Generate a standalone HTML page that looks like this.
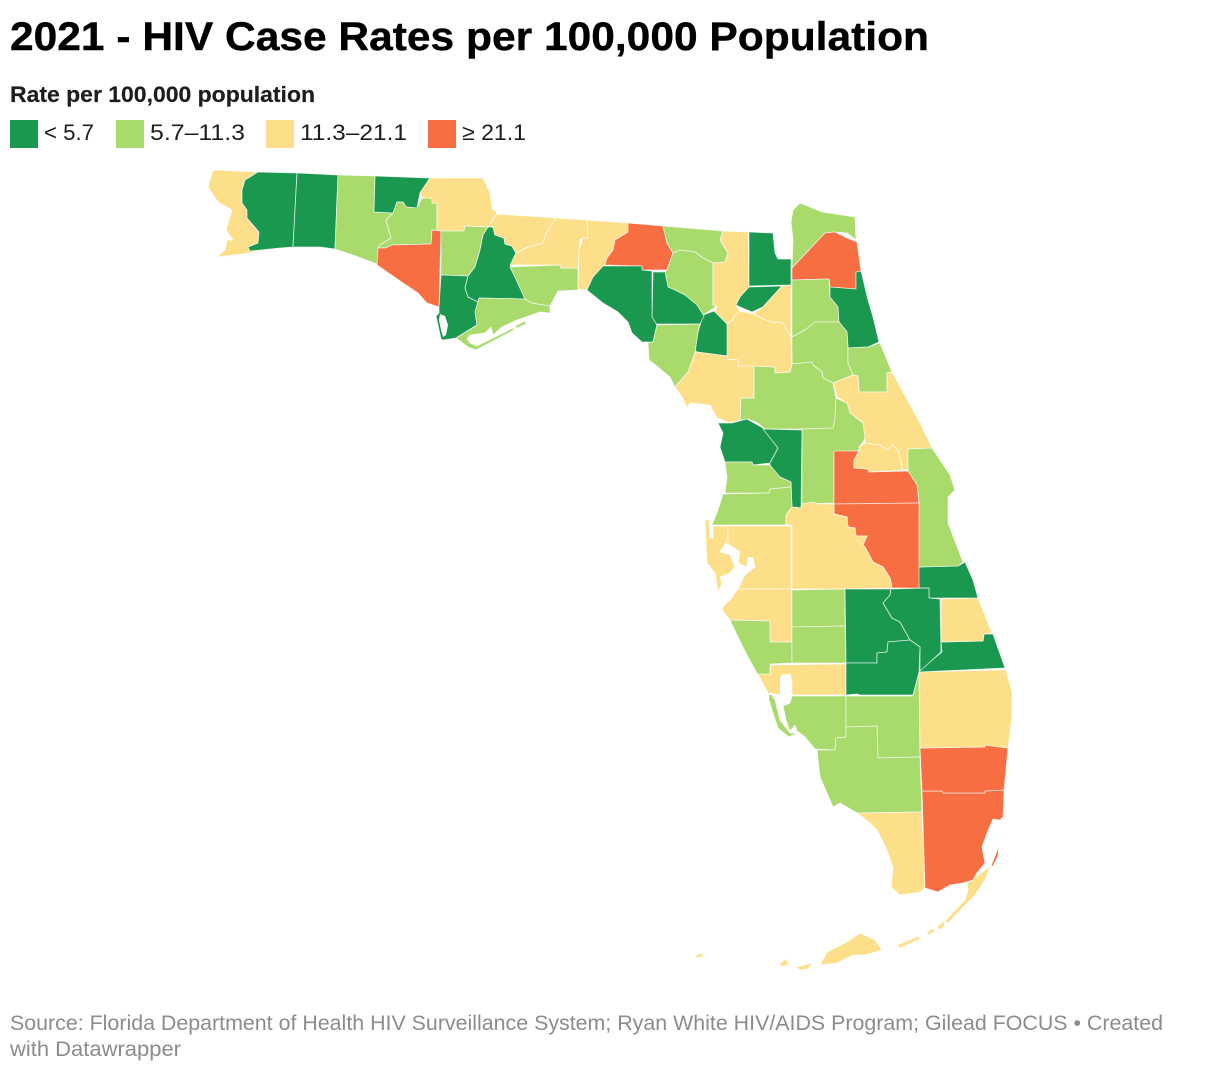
<!DOCTYPE html>
<html lang="en">
<head>
<meta charset="utf-8">
<title>2021 - HIV Case Rates per 100,000 Population</title>
<style>
html,body{margin:0;padding:0;background:#fff}
svg{display:block}
text{font-family:"Liberation Sans",Arial,sans-serif}
</style>
</head>
<body>
<svg id="chart" xmlns="http://www.w3.org/2000/svg" width="1220" height="1074" viewBox="0 0 1220 1074">
  <text x="10" y="50" font-size="40" font-weight="700" fill="#000" stroke="#000" stroke-width="0.4" textLength="919" lengthAdjust="spacingAndGlyphs">2021 - HIV Case Rates per 100,000 Population</text>
  <text x="10" y="102" font-size="22.5" font-weight="700" fill="#1d1d1d" stroke="#1d1d1d" stroke-width="0.2" textLength="305" lengthAdjust="spacingAndGlyphs">Rate per 100,000 population</text>
  <g id="legend"></g>
  <g id="counties"></g>
  <g id="water" fill="#fff">
    <polygon points="440,314 445,316 448,325 446,335 443,337 441,330 439,320"/>
    <polygon points="720,552 725,543 733,547 740,552 738,563 747,567 748,557 753,558 755,567 747,573 738,580 733,597 723,607 718,603 717,595 727,590 727,583 722,583 720,577 730,573 735,567 730,555"/>
    <polygon points="780,677 788,674 791,682 790,703 783,706 786,720 790,731 795,725 797,733 790,733 780,720 775,700 772,697 780,695"/>
  </g>
  <text x="10" y="1030" font-size="21" fill="#8c8c8c" textLength="1153" lengthAdjust="spacingAndGlyphs">Source: Florida Department of Health HIV Surveillance System; Ryan White HIV/AIDS Program; Gilead FOCUS • Created</text>
  <text x="10" y="1056" font-size="21" fill="#8c8c8c" textLength="171" lengthAdjust="spacingAndGlyphs">with Datawrapper</text>
</svg>
<script>
const binThresholds = [5.7, 11.3, 21.1];
const binColors = ["#1a9850", "#a9da6c", "#fedf89", "#f76e43"];
const legendLabels = ["< 5.7", "5.7\u201311.3", "11.3\u201321.1", "\u2265 21.1"];
const countyNames = ["Escambia","Santa Rosa","Okaloosa","Walton","Holmes","Washington","Bay","Jackson","Calhoun","Gulf","Liberty","Franklin","Wakulla","Gadsden","Leon","Jefferson","Madison","Hamilton","Suwannee","Columbia","Baker","Union","Bradford","Nassau","Duval","Clay","St Johns","Putnam","Flagler","Volusia","Marion","Lake","Alachua","Gilchrist","Lafayette","Taylor","Dixie","Levy","Citrus","Sumter","Hernando","Pasco","Pinellas","Hillsborough","Manatee","Sarasota","Hardee","DeSoto","Charlotte","Lee","Hendry","Collier","Monroe","Miami-Dade","Broward","Palm Beach","Martin","St Lucie","Indian River","Brevard","Orange","Seminole","Osceola","Polk","Highlands","Okeechobee","Glades"];
const countyRates = [18.2,4.1,5.2,8.3,2.9,7.4,22.6,13.5,8.8,3.2,0,9.9,6.5,17.4,19.8,14.2,24.9,10.5,9.1,12.7,3.7,0,15.1,6.9,25.3,8.4,4.4,9.6,7.7,12.1,10.8,9.2,14.9,0,0,5.1,10.2,13.3,5.3,4.9,8.6,9.4,14.1,18.7,13.8,8.9,9.3,10.7,12.2,10.1,9.8,8.5,12.4,38.2,36.5,18.9,4.6,16.3,5.0,10.4,28.1,17.6,22.4,13.9,4.8,3.5,0];

const countyShapes = {
"Escambia":"213,170 258,172 245,180 242,190 242,203 247,210 247,218 259,232 258,243 248,247 250,251 280,248 242,254 217,257 225,250 227,240 233,240 226,230 232,210 218,202 208,187",
"Santa Rosa":"258,172 297,173 293,247 280,248 250,251 248,247 258,243 259,232 247,218 247,210 242,203 242,190 245,180",
"Okaloosa":"297,173 338,175 335,249 320,247 307,247 293,247",
"Walton":"338,175 375,176 374,212 393,213 386,220 391,238 380,245 377,264 353,255 335,249",
"Holmes":"375,176 430,178 420,193 417,208 406,207 403,202 397,202 393,213 374,212",
"Washington":"393,213 397,202 403,202 406,207 417,208 422,198 432,198 432,203 437,203 437,230 432,230 431,244 392,245 385,248 378,248 380,245 391,238 386,220",
"Bay":"432,230 441,231 439,307 427,303 418,293 403,283 377,265 378,248 385,248 392,245 431,244",
"Jackson":"430,178 483,178 490,193 492,208 497,213 488,227 465,226 464,231 441,231 437,230 437,203 432,203 432,198 422,198 420,193",
"Calhoun":"441,231 464,231 465,226 488,227 483,235 480,250 475,267 468,276 441,275",
"Gulf":"441,275 468,276 465,288 468,297 478,302 475,312 477,325 456,338 443,340 441,339 438,325 436,316 439,313 439,307",
"Liberty":"488,227 493,227 495,235 504,238 505,244 512,246 516,253 510,267 515,277 525,299 479,298 478,302 468,297 465,288 468,276 475,267 480,250 483,235",
"Franklin":"479,298 525,299 532,303 550,306 550,313 540,312 517,320 502,327 493,335 491,327 485,333 470,335 467,339 470,343 477,346 513,328 514,330 476,350 468,347 456,338 477,325 475,312 478,302|515,326 525,321 526,324 517,328",
"Wakulla":"510,267 560,265 561,268 578,268 578,290 558,291 550,306 532,303 525,299 515,277",
"Gadsden":"497,214 556,218 547,232 543,243 528,247 516,253 512,246 505,244 504,238 495,235 493,227 488,227",
"Leon":"556,218 587,220 588,238 580,239 578,268 561,268 560,265 510,265 516,253 528,247 543,243 547,232",
"Jefferson":"587,220 628,223 628,232 615,240 613,250 607,258 608,265 603,267 593,277 587,290 578,289 579,250 583,238 588,238",
"Madison":"628,223 663,226 667,243 673,253 667,270 642,270 642,266 605,265 607,258 613,250 615,240 628,232",
"Hamilton":"663,226 723,231 720,240 728,253 725,262 713,263 703,258 695,252 680,250 673,253 667,243",
"Suwannee":"673,253 680,250 695,252 703,258 713,263 713,305 717,306 703,315 697,305 685,295 675,290 668,287 665,272 667,270",
"Columbia":"723,231 748,232 749,287 740,297 736,305 740,312 735,315 733,320 727,324 715,312 717,306 713,305 713,263 725,262 728,253 720,240",
"Baker":"749,232 773,233 775,253 778,259 791,259 791,285 749,286",
"Union":"749,287 782,286 772,297 763,307 752,312 740,307 736,305 740,297",
"Bradford":"782,286 791,285 791,337 783,323 770,322 753,314 763,307 772,297",
"Nassau":"800,203 822,212 855,217 856,240 847,233 835,232 825,233 792,268 793,240 791,222 793,210",
"Duval":"792,268 825,233 835,232 847,238 857,242 861,271 856,272 856,289 830,287 829,279 792,280",
"Clay":"792,280 829,279 830,297 838,307 839,322 815,322 805,330 792,337",
"St Johns":"856,272 861,271 868,300 873,317 879,342 868,347 848,348 847,332 839,322 838,307 830,297 830,287 856,289",
"Putnam":"792,337 805,330 815,322 839,322 847,332 848,348 848,363 853,375 833,383 823,378 822,372 813,365 812,362 792,364",
"Flagler":"848,348 868,347 880,343 892,372 887,373 887,392 859,392 858,376 853,375 848,363",
"Volusia":"853,375 858,376 859,392 887,392 887,373 892,372 920,423 932,448 908,449 908,470 903,470 898,450 893,445 887,450 880,445 865,443 863,423 850,413 847,403 837,397 833,383",
"Marion":"754,366 775,367 775,373 790,372 792,364 812,362 813,365 822,372 823,378 833,383 836,398 835,418 833,428 802,429 765,429 758,423 748,419 740,420 741,398 754,398",
"Lake":"802,429 833,428 835,418 836,398 847,403 850,413 863,423 865,438 863,442 859,447 859,451 834,452 834,503 802,504",
"Alachua":"727,324 733,320 735,315 740,311 753,314 770,322 783,323 791,337 792,364 790,372 775,373 775,367 754,366 738,366 738,360 727,359",
"Gilchrist":"714,311 727,324 727,356 697,352 695,350 698,332 703,315",
"Lafayette":"653,272 665,272 668,287 675,290 685,295 697,305 704,316 700,324 653,324 652,317",
"Taylor":"603,266 642,266 642,270 652,271 652,317 657,325 653,342 642,342 632,333 628,322 618,312 603,303 587,290 593,277",
"Dixie":"657,325 700,324 698,332 695,353 688,372 675,387 670,377 658,367 649,360 648,343 653,342",
"Levy":"697,352 727,356 727,359 738,360 738,366 754,366 754,398 741,398 740,420 730,423 717,418 710,405 690,403 687,408 682,397 675,387 688,372 695,353",
"Citrus":"718,423 732,423 747,419 763,428 778,448 770,463 753,465 752,462 725,462 720,447 723,433",
"Sumter":"763,429 802,430 801,508 792,507 791,482 780,477 770,467 770,463 778,448",
"Hernando":"725,462 752,462 753,465 770,465 780,477 791,482 791,487 770,489 769,493 725,493 727,477",
"Pasco":"723,494 769,493 770,489 791,487 792,507 786,515 786,525 712,525 718,510",
"Pinellas":"705,519 709,520 710,538 713,538 713,526 728,526 728,545 722,550 720,552 730,555 735,567 730,573 720,577 722,583 718,592 715,573 707,563 706,543",
"Hillsborough":"728,526 791,526 791,589 738,589 745,575 755,567 753,558 748,557 747,567 738,563 740,552 733,547 725,543 728,543",
"Manatee":"738,589 792,589 792,642 770,642 770,621 730,620 722,610 723,607",
"Sarasota":"730,620 770,621 770,642 792,642 792,663 770,664 770,674 758,675 748,657 738,637",
"Hardee":"792,590 845,589 845,626 792,627",
"DeSoto":"792,627 845,626 846,663 792,663",
"Charlotte":"771,665 846,664 846,695 792,695 792,682 790,674 782,675 780,695 768,693 758,674 770,674",
"Lee":"792,696 846,696 846,737 836,738 835,750 815,749 805,737 797,731 795,725 790,731 786,720 783,706 790,703|769,694 772,695 775,700 780,720 790,733 797,733 789,737 778,728 772,710 769,700",
"Hendry":"846,696 913,696 919,672 920,757 878,758 877,726 846,727",
"Collier":"846,727 877,726 878,758 920,757 922,812 857,813 840,803 833,807 827,793 820,777 817,750 835,750 836,738 846,737",
"Monroe":"857,813 922,812 925,888 920,892 900,895 891,887 893,868 887,850 877,830 870,823|820,965 827,952 845,943 860,933 875,940 882,950 865,955 853,955 837,963|967,884 990,866 985,880 975,895 948,923 945,921 965,900 968,890|897,945 919,936 920,939 900,948|926,933 933,928 935,931 929,935|937,927 944,921 945,925 940,930|695,956 702,953 704,956 697,958|780,964 785,959 789,963 786,966 780,966|796,967 813,963 808,969 800,970",
"Miami-Dade":"922,791 942,791 943,793 985,793 985,791 1004,790 1003,817 1000,820 993,819 987,833 982,847 985,863 977,873 973,880 963,883 950,885 938,892 925,888|991,866 999,846 998,856 993,866",
"Broward":"920,748 985,747 985,745 1008,748 1004,790 985,791 985,793 943,793 942,791 922,791",
"Palm Beach":"919,672 1000,670 1006,670 1012,692 1012,717 1008,748 985,745 985,747 920,748",
"Martin":"920,670 942,652 941,642 983,641 984,634 993,634 1005,668 919,672",
"St Lucie":"941,599 978,598 992,633 984,634 983,641 941,642",
"Indian River":"918,567 958,566 965,562 973,580 978,598 940,598 929,598 929,588 919,588",
"Brevard":"908,449 932,448 950,475 955,490 948,497 948,523 963,562 958,566 918,567 919,502 917,485 908,472",
"Orange":"834,451 859,451 854,460 854,468 868,469 869,472 908,471 917,485 919,503 834,504",
"Seminole":"865,443 880,445 887,450 893,445 898,450 903,470 869,472 868,469 854,468 854,460 859,452 859,447",
"Osceola":"834,504 919,503 919,588 892,588 890,578 883,567 873,562 865,547 857,540 863,545 867,536 856,536 855,528 848,527 847,517 834,514",
"Polk":"792,525 786,525 786,515 792,507 801,508 802,504 813,502 820,504 834,504 834,514 847,517 848,527 855,528 856,536 867,536 863,545 857,540 865,547 873,562 883,567 890,578 892,588 845,589 792,589",
"Highlands":"845,589 891,589 890,595 883,603 892,618 900,622 910,640 888,642 887,652 877,653 877,663 846,663",
"Okeechobee":"891,589 929,588 929,598 940,599 941,652 920,671 920,647 910,640 900,622 892,618 883,603 890,595",
"Glades":"846,663 877,663 877,653 887,652 888,642 910,640 920,647 919,672 913,695 860,695 857,694 846,695"
};

function rateBin(rate) {
  let i = 0;
  while (i < binThresholds.length && rate >= binThresholds[i]) i++;
  return i;
}
function colorScale(rate) {
  return binColors[rateBin(rate)];
}
function ringsToPath(shape) {
  return shape.split("|").map(function (ring) {
    return "M" + ring.trim().split(" ").join("L") + "Z";
  }).join("");
}

const SVG_NS = "http://www.w3.org/2000/svg";
const countyGroup = document.getElementById("counties");
countyNames.forEach(function (name, i) {
  const el = document.createElementNS(SVG_NS, "path");
  el.setAttribute("d", ringsToPath(countyShapes[name]));
  el.setAttribute("fill", colorScale(countyRates[i]));
  el.setAttribute("stroke", "#fff");
  el.setAttribute("stroke-width", "0.8");
  el.setAttribute("stroke-opacity", "0.75");
  el.setAttribute("stroke-linejoin", "round");
  
  
  const tip = document.createElementNS(SVG_NS, "title");
  tip.textContent = name + ": " + countyRates[i];
  el.appendChild(tip);
  countyGroup.appendChild(el);
});

const legendGroup = document.getElementById("legend");
const legendSwatchX = [10, 116, 266, 428];
const legendTextWidth = [50, 95, 107, 64];
legendLabels.forEach(function (label, i) {
  const swatch = document.createElementNS(SVG_NS, "rect");
  swatch.setAttribute("x", legendSwatchX[i]);
  swatch.setAttribute("y", 120);
  swatch.setAttribute("width", 28);
  swatch.setAttribute("height", 28);
  swatch.setAttribute("fill", binColors[i]);
  
  
  legendGroup.appendChild(swatch);
  const txt = document.createElementNS(SVG_NS, "text");
  txt.setAttribute("x", legendSwatchX[i] + 34);
  txt.setAttribute("y", 140);
  txt.setAttribute("font-size", "22");
  txt.setAttribute("fill", "#1d1d1d");
  txt.setAttribute("textLength", legendTextWidth[i]);
  txt.setAttribute("lengthAdjust", "spacingAndGlyphs");
  
  
  txt.textContent = label;
  legendGroup.appendChild(txt);
});
</script>
</body>
</html>
